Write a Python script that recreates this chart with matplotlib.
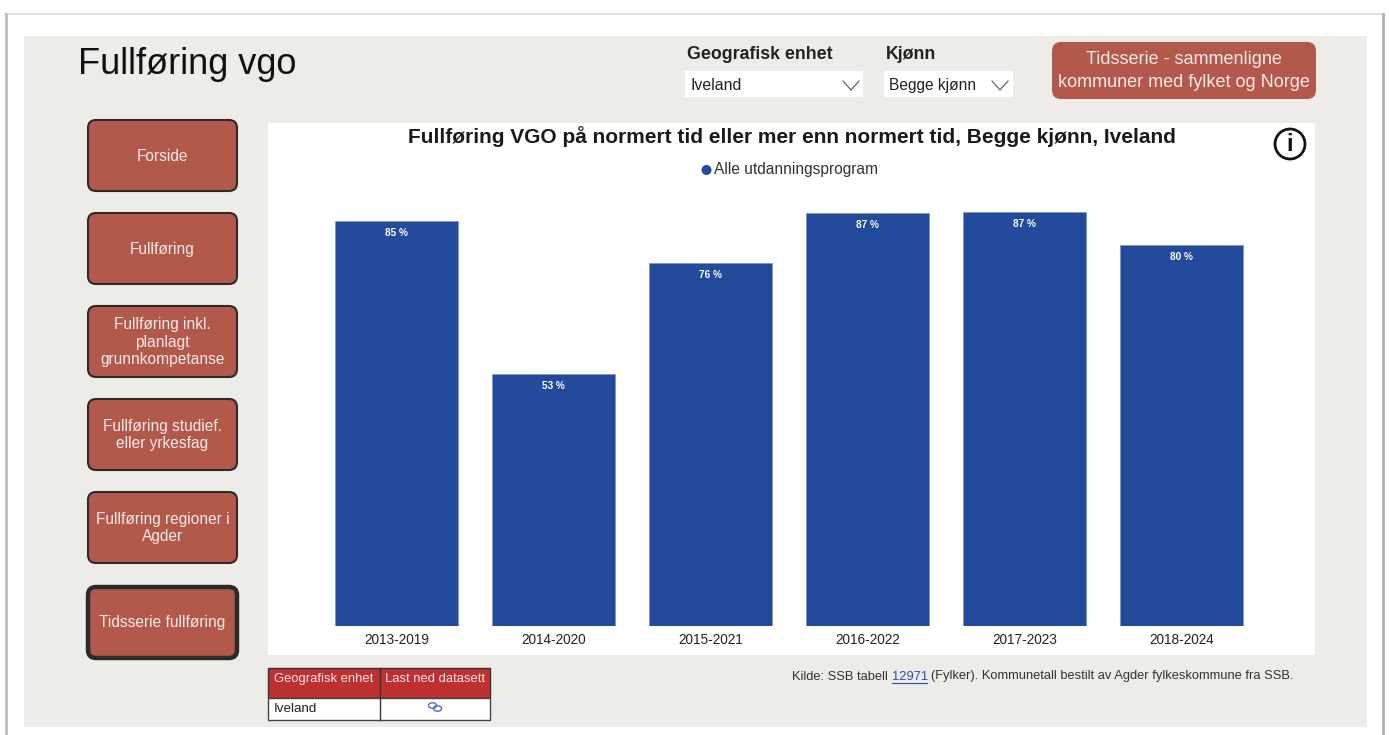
import matplotlib
matplotlib.use("Agg")
import matplotlib.pyplot as plt
from matplotlib.patches import FancyBboxPatch, Rectangle, Circle, Ellipse

W, H = 1389, 735
periods = ["2013-2019", "2014-2020", "2015-2021", "2016-2022", "2017-2023", "2018-2024"]
values = [85.1, 53.0, 76.3, 86.8, 87.0, 80.1]
labels = ["85 %", "53 %", "76 %", "87 %", "87 %", "80 %"]
nav_labels = ["Forside", "Fullføring", "Fullføring inkl.\nplanlagt\ngrunnkompetanse",
              "Fullføring studief.\neller yrkesfag", "Fullføring regioner i\nAgder", "Tidsserie fullføring"]
nav_tops = [120, 213, 306, 399, 492, 587]

plt.rcParams['font.family'] = ['Liberation Sans', 'DejaVu Sans']
RED = '#B2594C'; BG = '#EDECE8'; BLUE = '#234A9B'; DARK = '#222222'

fig = plt.figure(figsize=(W/100, H/100), dpi=100, facecolor='white')
bgax = fig.add_axes([0, 0, 1, 1])
bgax.set_xlim(0, W); bgax.set_ylim(H, 0); bgax.axis('off')

def box(x, y, w, h, fc, ec='none', lw=0, r=8, z=2):
    bgax.add_patch(FancyBboxPatch((x+r, y+r), w-2*r, h-2*r, boxstyle=f"round,pad={r}",
                                  fc=fc, ec=ec, lw=lw, zorder=z))

# outer frame and panel
bgax.plot([6, 1383], [14, 14], color='#E2E2E2', lw=1.5, zorder=0)
bgax.plot([6, 6], [14, 735], color='#BDBDBD', lw=2, zorder=0)
bgax.plot([1383, 1383], [14, 735], color='#B0B0B0', lw=2, zorder=0)
bgax.add_patch(Rectangle((24, 36), 1343, 691, fc=BG, ec='none', zorder=1))
bgax.add_patch(Rectangle((268, 123), 1047, 532, fc='white', ec='none', zorder=2))

bgax.text(78, 64, "Fullføring vgo", fontsize=26, color='#111111', va='center', zorder=5)

# slicers
bgax.text(687, 54, "Geografisk enhet", fontsize=12.8, fontweight='bold', color=DARK, va='center', zorder=5)
bgax.text(886, 54, "Kjønn", fontsize=12.8, fontweight='bold', color=DARK, va='center', zorder=5)
bgax.add_patch(Rectangle((685, 71), 178, 26, fc='white', zorder=3))
bgax.add_patch(Rectangle((884, 71), 129, 26, fc='white', zorder=3))
bgax.text(690, 85.5, "Iveland", fontsize=11.4, color=DARK, va='center', zorder=5)
bgax.text(889, 85.5, "Begge kjønn", fontsize=11.2, color=DARK, va='center', zorder=5)
for cx in (851, 1000):
    bgax.plot([cx-8, cx, cx+8], [81, 90, 81], color='#555555', lw=0.8, zorder=5)

# top-right button
box(1052, 42, 264, 57, RED, r=9, z=3)
bgax.text(1184, 71, "Tidsserie - sammenligne\nkommuner med fylket og Norge", fontsize=13, color='#F7E9E6',
          ha='center', va='center', linespacing=1.42, zorder=5)

# nav buttons
for i, (lab, top) in enumerate(zip(nav_labels, nav_tops)):
    last = i == len(nav_labels) - 1
    box(88, top, 149, 71, RED, ec='#2B2B2B', lw=3.2 if last else 1.5, r=8, z=3)
    bgax.text(162.5, top + 36, lab, fontsize=11.2, color='#F7E9E6', ha='center', va='center',
              linespacing=1.24, zorder=5)

# chart
bar_bottom, bar_top = 626, 212
y_max = 87.0
ax = fig.add_axes([268/W, 1 - bar_bottom/H, 1047/W, (bar_bottom - bar_top)/H], facecolor='none')
ax.set_zorder(3)
xs = list(range(len(periods)))
ax.bar(xs, values, width=0.78, color=BLUE, edgecolor='#7E96C8', linewidth=0.6)
ax.set_xlim(-0.82, 5.85)
ax.set_ylim(0, y_max)
for x, v, l in zip(xs, values, labels):
    ax.annotate(l, (x, v), xytext=(0, -8.8), textcoords='offset points', ha='center', va='center',
                fontsize=7.2, fontweight='bold', color='white')
ax.set_xticks(xs, periods, fontsize=9.8, color=DARK)
ax.set_yticks([])
ax.tick_params(axis='x', length=0, pad=5.3)
for s in ax.spines.values():
    s.set_visible(False)

bgax.text(791.5, 137, "Fullføring VGO på normert tid eller mer enn normert tid, Begge kjønn, Iveland",
          fontsize=15, fontweight='bold', color='#1A1A1A', ha='center', va='center', zorder=5)
bgax.add_patch(Circle((706.5, 170), 5, fc=BLUE, zorder=5))
bgax.text(714, 169.5, "Alle utdanningsprogram", fontsize=11.2, color='#333333', va='center', zorder=5)

# info icon
bgax.add_patch(Circle((1290, 144), 15, fc='white', ec='#111111', lw=2, zorder=5))
bgax.text(1290, 144.5, "i", fontsize=17, fontweight='bold', color='#111111', ha='center', va='center', zorder=6)

# table
bgax.add_patch(Rectangle((268, 668), 222, 30, fc='#BF3131', ec='#333333', lw=1, zorder=3))
bgax.add_patch(Rectangle((268, 698), 222, 22, fc='white', ec='#444444', lw=1, zorder=3))
bgax.plot([379.5, 379.5], [668, 720], color='#333333', lw=1, zorder=4)
bgax.text(274, 679, "Geografisk enhet", fontsize=9.4, color='#F7E4E4', va='center', zorder=5)
bgax.text(385, 679, "Last ned datasett", fontsize=9.4, color='#F7E4E4', va='center', zorder=5)
bgax.text(274, 709, "Iveland", fontsize=9.6, color=DARK, va='center', zorder=5)
for cx, cy in ((432.5, 705.5), (437.5, 708.5)):
    bgax.add_patch(Ellipse((cx, cy), 8, 5.5, fc='none', ec='#4C6CC0', lw=1, zorder=5))

# source
bgax.text(792, 676.5, "Kilde: SSB tabell", fontsize=9.25, color='#333333', va='center', zorder=5)
bgax.text(892, 676.5, "12971", fontsize=9.25, color='#2B4FA8', va='center', zorder=5)
bgax.plot([892, 927], [683, 683], color='#2B4FA8', lw=0.8, zorder=5)
bgax.text(931, 676.5, "(Fylker). Kommunetall bestilt av Agder fylkeskommune fra SSB.", fontsize=9.25,
          color='#333333', va='center', zorder=5)

fig.savefig("out.png", dpi=100, facecolor='white')
